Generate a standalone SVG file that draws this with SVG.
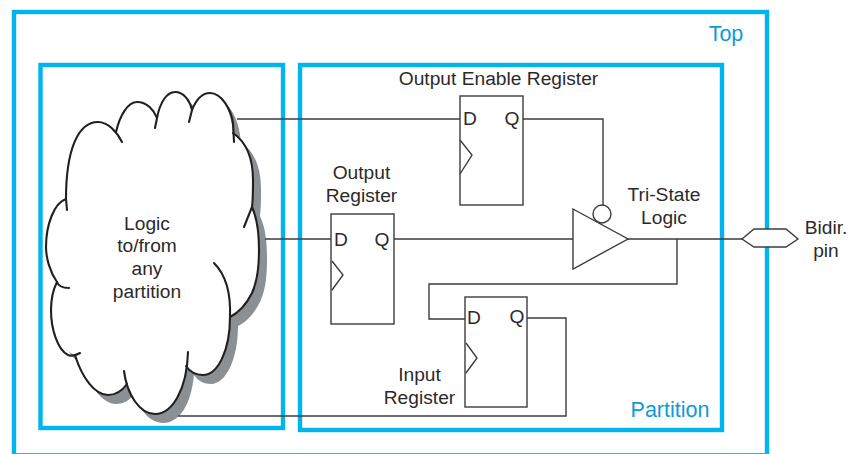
<svg xmlns="http://www.w3.org/2000/svg" width="849" height="454" viewBox="0 0 849 454">
<style>
.box{fill:none;stroke:#00b5ec;stroke-width:4.4}
.w{fill:none;stroke:#3c3c3c;stroke-width:1.4}
.r{fill:#fff;stroke:#3c3c3c;stroke-width:1.4}
.c{fill:none;stroke:#231f20;stroke-width:2.1;stroke-linecap:round}
text{font-family:"Liberation Sans",Arial,sans-serif;font-size:19.2px;fill:#2b2a2b;text-anchor:middle}
.b{fill:#0b9cd6;font-size:21.5px}
</style>
<defs><path id="outline" d="M66 199C66 150 78 122 98 122C106 122 112 126 116 132C120 115 128 102 137 102C147 102 154 110 157 118C160 102 167 92 175 92C184 92 190 101 192 110C196 100 202 93 210 93C222 93 231 110 233 133C246 142 253 158 253 180C253 190 253 200 252 207C258 220 259 235 259 250C259 265 258 280 252 293C246 305 238 313 230 317C230 350 218 375 203 375C196 375 190 372 186 366C183 395 172 414 155 414C142 414 130 400 127 384C122 391 116 395 108 395C95 395 82 378 75 355C62 350 51 330 51 310C51 298 53 290 57 282C50 272 46 258 46 247C46 225 54 203 66 199Z"/></defs>
<rect width="849" height="454" fill="#fff"/>
<g id="top-box"><rect class="box" x="14" y="12" width="753" height="443.300"/><text class="b" x="726" y="41">Top</text></g>
<g id="left-box"><rect class="box" x="40.500" y="65" width="242.500" height="363"/></g>
<g id="partition-box"><rect class="box" x="300" y="65" width="422" height="365"/><text class="b" x="670" y="417">Partition</text></g>
<g id="cloud">
<use href="#outline" fill="#8b9095" transform="translate(8 9)"/>
<use href="#outline" fill="#fff"/>
<path class="c" d="M66 199C66 150 78 122 98 122C108 122 117 132 122 142"/>
<path class="c" d="M116 132C120 115 128 102 137 102C147 102 154 110 157 118L155 128"/>
<path class="c" d="M157 118C160 102 167 92 175 92C184 92 190 101 192 110L189 122"/>
<path class="c" d="M192 110C196 100 202 93 210 93C222 93 231 110 233 123L234 142"/>
<path class="c" d="M233 133C246 142 253 158 253 180C253 190 253 200 252 207L244 227"/>
<path class="c" d="M252 207C258 220 259 235 259 250C259 265 258 280 252 293C246 305 238 313 230 317"/>
<path class="c" d="M214 263C226 275 231 292 230 317C230 350 218 375 203 375C196 375 190 372 186 366"/>
<path class="c" d="M188 352C187 390 172 414 155 414C140 414 127 395 124 371"/>
<path class="c" d="M127 384C122 391 116 395 108 395C95 395 82 378 75 355"/>
<path class="c" d="M80 353C75 356 70 356 68 355C58 350 51 330 51 310C51 298 53 290 57 282"/>
<path class="c" d="M69 288C62 288 58 285 57 282C50 272 46 258 46 247C46 225 54 203 66 199L67 210"/>
<text x="147" y="230">Logic</text><text x="147" y="252">to/from</text><text x="147" y="275">any</text><text x="147" y="298">partition</text>
</g>
<g id="connectors">
<path class="w" d="M237 119H460M523 119H603V206M265 239H331M393 239H573M628 239H742M677 239V284H429V319H465M527 318H566V416H178"/>
</g>
<g id="output-enable-register"><rect class="r" x="460" y="96" width="63" height="109"/><path class="w" d="M460 140L472 155L460 174"/><text x="470" y="125">D</text><text x="512" y="125">Q</text><text x="498.500" y="85">Output Enable Register</text></g>
<g id="output-register"><rect class="r" x="331" y="214" width="63" height="110"/><path class="w" d="M332 261L343 275L332 290"/><text x="341" y="246">D</text><text x="382" y="246">Q</text><text x="361.500" y="179">Output</text><text x="361.500" y="202">Register</text></g>
<g id="input-register"><rect class="r" x="465" y="297" width="62" height="110"/><path class="w" d="M466 343L477 358L466 373"/><text x="474" y="324">D</text><text x="517" y="323">Q</text><text x="419.500" y="381">Input</text><text x="419.500" y="404">Register</text></g>
<g id="tri-state"><path class="r" d="M573 209L628 239L573 269Z"/><circle class="r" cx="602" cy="214" r="9"/><text x="664" y="201">Tri-State</text><text x="664" y="224">Logic</text></g>
<g id="pin"><path class="r" d="M742 239L754 229H786L798 239L786 247H754Z"/><text x="826" y="234">Bidir.</text><text x="826" y="257">pin</text></g>
</svg>
